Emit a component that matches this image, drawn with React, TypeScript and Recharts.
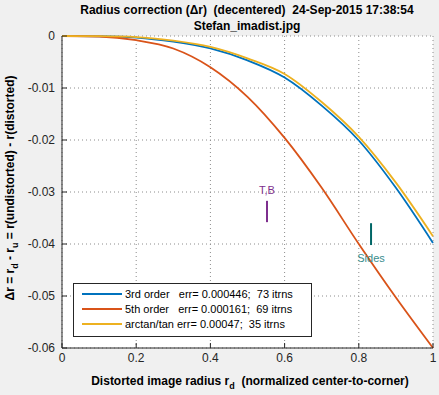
import { LineChart, Line, XAxis, YAxis, CartesianGrid, Legend, ReferenceLine, ReferenceDot } from 'recharts'

const radius = [0, 0.1, 0.2, 0.3, 0.4, 0.5, 0.6, 0.7, 0.8, 0.9, 1]
const thirdOrder = [0, -0.00005, -0.0003, -0.0011, -0.0024, -0.0047, -0.008, -0.0134, -0.0201, -0.0292, -0.0398]
const fifthOrder = [0, -0.0001, -0.0008, -0.0024, -0.006, -0.0117, -0.0196, -0.0292, -0.04, -0.0503, -0.06]
const arctanTan = [0, -0.00004, -0.0002, -0.0009, -0.0021, -0.0043, -0.0073, -0.0127, -0.0194, -0.0282, -0.0385]

const seriesNames = [
  '3rd order   err= 0.000446;  73 itrns',
  '5th order   err= 0.000161;  69 itrns',
  'arctan/tan err= 0.00047;  35 itrns',
]
const seriesColors = ['#0072BD', '#D95319', '#EDB120']

const xTicks = [0, 0.2, 0.4, 0.6, 0.8, 1]
const yTicks = [0, -0.01, -0.02, -0.03, -0.04, -0.05, -0.06]

// annotation markers: [x, yTop, yBottom, yText]
const tbMark = [0.5526, -0.0317, -0.0358, -0.0296]
const sidesMark = [0.833, -0.036, -0.0402, -0.0427]

const data = radius.map((r, i) => ({ r, s0: thirdOrder[i], s1: fifthOrder[i], s2: arctanTan[i] }))

const font = '"Liberation Sans", Arial, sans-serif'
const axisColor = '#262626'
const tickStyle = { fontSize: 12, fill: axisColor, fontFamily: font }

function LegendBox({ payload }: any) {
  return (
    <div style={{ border: '1px solid #262626', background: '#fff', width: 237, padding: '2px 0 5px', fontFamily: font, fontSize: 11, color: '#000' }}>
      {(payload || []).map((p: any) => (
        <div key={p.value} style={{ display: 'flex', alignItems: 'center', height: 15 }}>
          <span style={{ display: 'inline-block', width: 40, height: 2, background: p.color, marginLeft: 8, marginRight: 3 }} />
          <span style={{ whiteSpace: 'pre' }}>{p.value}</span>
        </div>
      ))}
    </div>
  )
}

export default function App() {
  return (
    <div style={{ position: 'absolute', left: 0, top: 0, width: 439, height: 395, background: '#f0f0f0' }}>
      <LineChart width={439} height={395} data={data} margin={{ top: 36, right: 6, bottom: 0, left: 0 }} style={{ fontFamily: font }}>
        <CartesianGrid fill="#fff" stroke="#8c8c8c" strokeDasharray="1 3" />
        <XAxis dataKey="r" type="number" domain={[0, 1]} ticks={xTicks} height={47} tick={tickStyle}
          tickFormatter={(v) => String(v)} stroke={axisColor} tickSize={-5} tickMargin={10} interval={0} />
        <XAxis xAxisId="top" orientation="top" type="number" domain={[0, 1]} ticks={xTicks} height={0}
          tick={() => <g />} stroke={axisColor} tickSize={-5} allowDataOverflow />
        <YAxis type="number" domain={[-0.06, 0]} ticks={yTicks} width={62} tick={tickStyle}
          tickFormatter={(v) => (v === 0 ? '0' : v.toFixed(2))} stroke={axisColor} tickSize={-5} tickMargin={12} interval={0} />
        <YAxis yAxisId="right" orientation="right" type="number" domain={[-0.06, 0]} ticks={yTicks} width={0}
          tick={() => <g />} stroke={axisColor} tickSize={-5} allowDataOverflow />
        {['s0', 's1', 's2'].map((k, i) => (
          <Line key={k} dataKey={k} name={seriesNames[i]} type="monotone" stroke={seriesColors[i]} strokeWidth={1.8}
            dot={false} isAnimationActive={false} />
        ))}
        <ReferenceLine segment={[{ x: tbMark[0], y: tbMark[1] }, { x: tbMark[0], y: tbMark[2] }]} stroke="#7E2F8E" strokeWidth={2} />
        <ReferenceDot x={tbMark[0]} y={tbMark[3]} r={0} stroke="none" fill="none"
          label={{ value: 'T,B', position: 'center', fill: '#7E2F8E', fontSize: 11, fontFamily: font }} />
        <ReferenceLine segment={[{ x: sidesMark[0], y: sidesMark[1] }, { x: sidesMark[0], y: sidesMark[2] }]} stroke="#006666" strokeWidth={2} />
        <ReferenceDot x={sidesMark[0]} y={sidesMark[3]} r={0} stroke="none" fill="none"
          label={{ value: 'Sides', position: 'center', fill: '#3a8d8d', fontSize: 11, fontFamily: font }} />
        <Legend layout="vertical" align="center" verticalAlign="middle" content={<LegendBox />}
          wrapperStyle={{ left: 73, top: 283, width: 'auto', height: 'auto' }} />
      </LineChart>
      <svg width={439} height={395} style={{ position: 'absolute', left: 0, top: 0, pointerEvents: 'none', whiteSpace: 'pre' }}
        fontFamily={font} fontWeight="bold" fill="#000" xmlSpace="preserve">
        <text x={247} y={14} textAnchor="middle" fontSize={12} xmlSpace="preserve">{'Radius correction (Δr)  (decentered)  24-Sep-2015 17:38:54'}</text>
        <text x={247} y={30} textAnchor="middle" fontSize={12}>Stefan_imadist.jpg</text>
        <text x={250} y={385} textAnchor="middle" fontSize={12} xmlSpace="preserve">
          {'Distorted image radius r'}<tspan dy={4} fontSize={9}>d</tspan><tspan dy={-4}>{'  (normalized center-to-corner)'}</tspan>
        </text>
        <text transform="translate(14,188) rotate(-90)" textAnchor="middle" fontSize={12} xmlSpace="preserve">
          {'Δr = r'}<tspan dy={4} fontSize={9}>d</tspan><tspan dy={-4}>{' - r'}</tspan><tspan dy={4} fontSize={9}>u</tspan><tspan dy={-4}>{' = r(undistorted) - r(distorted)'}</tspan>
        </text>
      </svg>
    </div>
  )
}
